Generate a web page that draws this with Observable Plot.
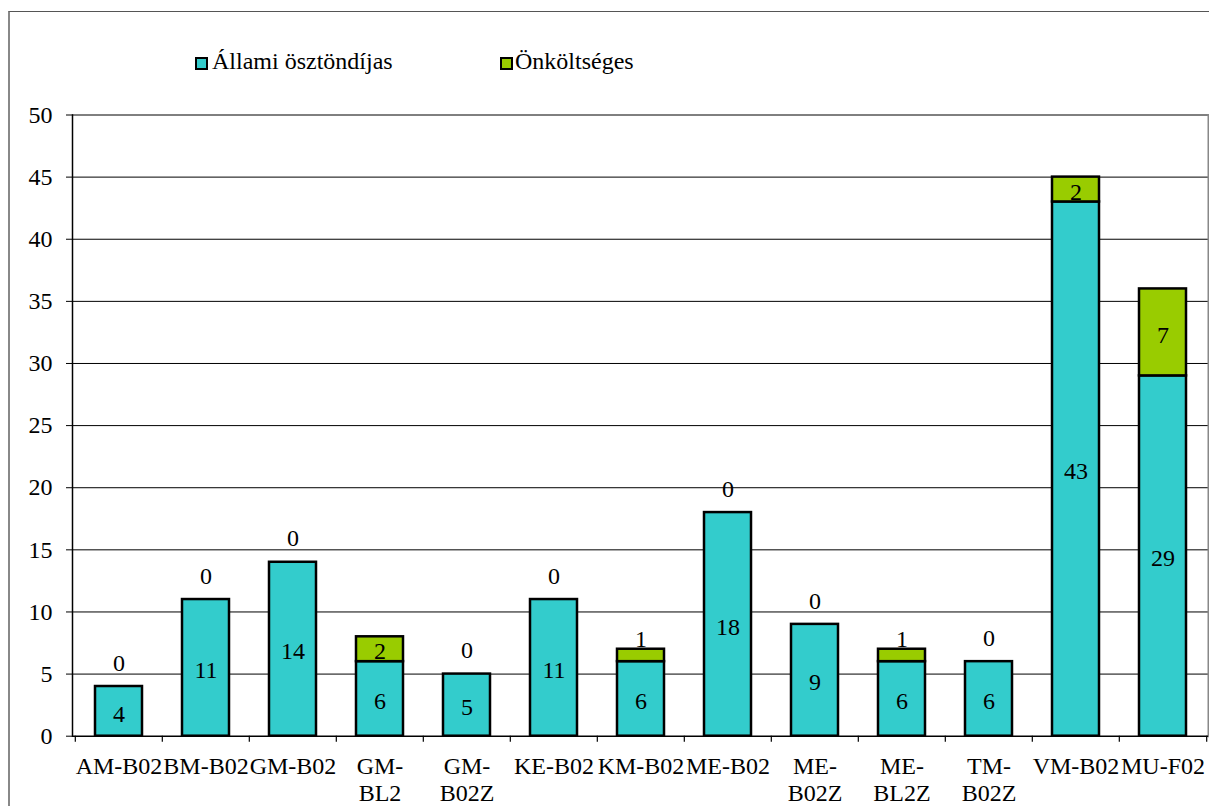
<!DOCTYPE html>
<html>
<head>
<meta charset="utf-8">
<script src="https://cdn.jsdelivr.net/npm/d3@7"></script>
<script src="https://cdn.jsdelivr.net/npm/@observablehq/plot@0.6"></script>
<style>
  body { margin: 0; background: #fff; font-family: "Liberation Serif", "Times New Roman", serif; }
  #wrap { position: relative; width: 1209px; height: 806px; overflow: hidden; }
  #frame { position: absolute; left: 8px; top: 11px; width: 1300px; height: 900px;
           border-top: 1.5px solid #555; border-left: 2px solid #888; }
  #chart { position: absolute; left: 0; top: 0; }
  .sw { position: absolute; top: 57px; width: 13px; height: 13px; box-sizing: border-box; border: 2px solid #000; }
  .lt { position: absolute; top: 48px; font-size: 24px; line-height: 26px; color: #000; white-space: nowrap; }
</style>
</head>
<body>
<div id="wrap">
  <div id="frame"></div>
  <div id="chart"></div>
  <div id="legend"></div>
</div>
<script>
// ---- data ----
const categories = ["AM-B02","BM-B02","GM-B02","GM-BL2","GM-B02Z","KE-B02","KM-B02","ME-B02","ME-B02Z","ME-BL2Z","TM-B02Z","VM-B02","MU-F02"];
const xLabels = ["AM-B02","BM-B02","GM-B02","GM-\nBL2","GM-\nB02Z","KE-B02","KM-B02","ME-B02","ME-\nB02Z","ME-\nBL2Z","TM-\nB02Z","VM-B02","MU-F02"];
const allami = [4, 11, 14, 6, 5, 11, 6, 18, 9, 6, 6, 43, 29];
const onkoltseges = [0, 0, 0, 2, 0, 0, 1, 0, 0, 1, 0, 2, 7];
const seriesNames = ["Állami ösztöndíjas", "Önköltséges"];
const seriesColors = ["#33CCCC", "#99CC00"];
const yTicks = [0, 5, 10, 15, 20, 25, 30, 35, 40, 45, 50];

// ---- derived tables ----
const rows = [];
categories.forEach((c, i) => rows.push({cat: c, series: seriesNames[0], value: allami[i]}));
categories.forEach((c, i) => rows.push({cat: c, series: seriesNames[1], value: onkoltseges[i]}));

const lblMid = [], lblOne = [], lblZero = [];
categories.forEach((c, i) => {
  lblMid.push({cat: c, pos: allami[i] / 2, label: String(allami[i])});
  const v = onkoltseges[i];
  if (v >= 2) lblMid.push({cat: c, pos: allami[i] + v / 2, label: String(v)});
  else if (v === 1) lblOne.push({cat: c, pos: allami[i] + v, label: String(v)});
  else lblZero.push({cat: c, pos: allami[i], label: String(v)});
});
const labelMap = new Map(categories.map((c, i) => [c, xLabels[i]]));

// ---- layout ----
const W = 1209, H = 806, mL = 72, mR = 1, mT = 114.5, mB = 70.3;
const step = (W - mL - mR) / categories.length;
const FS = 24;

const plot = Plot.plot({
  width: W, height: H,
  marginLeft: mL, marginRight: mR, marginTop: mT, marginBottom: mB,
  style: {fontFamily: '"Liberation Serif", "Times New Roman", serif', fontSize: FS + "px", color: "#000", background: "transparent"},
  x: {domain: categories, paddingInner: 0.46, paddingOuter: 0.23, label: null},
  y: {domain: [0, 50], label: null},
  color: {domain: seriesNames, range: seriesColors},
  marks: [
    Plot.ruleY(yTicks.filter(d => d > 0), {stroke: "#000", strokeWidth: 1}),
    Plot.frame({anchor: "right", stroke: "#888", strokeWidth: 2}),
    Plot.barY(rows.filter(d => d.value > 0), {x: "cat", y: "value", fill: "series", stroke: "#000", strokeWidth: 2.5}),
    Plot.ruleY([0], {stroke: "#000", strokeWidth: 1.5}),
    Plot.frame({anchor: "left", stroke: "#000", strokeWidth: 1.5}),
    Plot.ruleX(categories, {x: d => d, y1: 0, y2: 0, dx: -step / 2, insetBottom: -6, stroke: "#000", strokeWidth: 1.2}),
    Plot.ruleX([categories[categories.length - 1]], {x: d => d, y1: 0, y2: 0, dx: step / 2, insetBottom: -6, stroke: "#000", strokeWidth: 1.2}),
    Plot.axisY({ticks: yTicks, tickSize: 6, tickPadding: 14, fontSize: FS, stroke: "#000"}),
    Plot.axisX({tickSize: 0, tickPadding: 19, fontSize: FS, lineHeight: 1.125, tickFormat: d => labelMap.get(d)}),
    Plot.text(lblMid, {x: "cat", y: "pos", text: "label", dy: 2.5, fontSize: FS, fill: "#000"}),
    Plot.text(lblOne, {x: "cat", y: "pos", text: "label", dy: -9.5, fontSize: FS, fill: "#000"}),
    Plot.text(lblZero, {x: "cat", y: "pos", text: "label", dy: -23.5, fontSize: FS, fill: "#000"})
  ]
});
document.getElementById("chart").appendChild(plot);

// ---- legend ----
const legend = document.getElementById("legend");
const legPos = [{sw: 195, tx: 212}, {sw: 500, tx: 515}];
seriesNames.forEach((name, i) => {
  const s = document.createElement("div");
  s.className = "sw";
  s.style.left = legPos[i].sw + "px";
  s.style.background = seriesColors[i];
  legend.appendChild(s);
  const t = document.createElement("div");
  t.className = "lt";
  t.style.left = legPos[i].tx + "px";
  t.textContent = name;
  legend.appendChild(t);
});
</script>
</body>
</html>
